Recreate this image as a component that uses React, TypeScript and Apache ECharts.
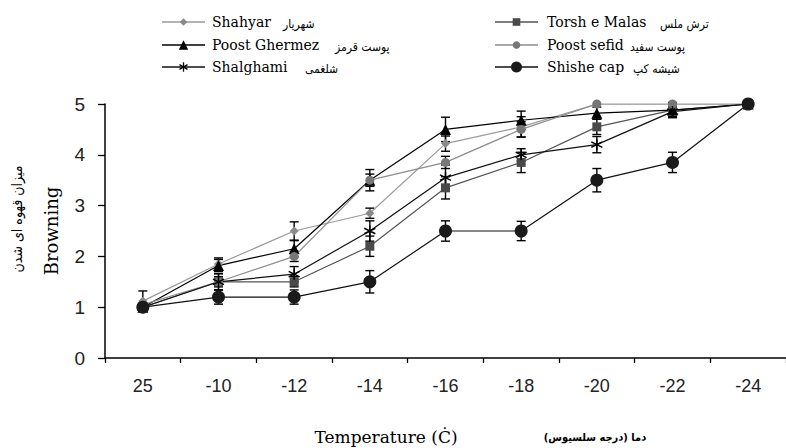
import React, { useEffect, useRef } from "react";
import * as echarts from "echarts";

const categories = ["25", "-10", "-12", "-14", "-16", "-18", "-20", "-22", "-24"];
const seriesNames = ["Shahyar", "Torsh e Malas", "Poost Ghermez", "Poost sefid", "Shalghami", "Shishe cap"];
const persianNames = ["شهریار", "ترش ملس", "پوست قرمز", "پوست سفید", "شلغمی", "شیشه کپ"];

const shahyar = [1.12, 1.85, 2.5, 2.85, 4.22, 4.55, 5.0, 5.0, 5.0];
const torshMalas = [1.0, 1.5, 1.5, 2.2, 3.35, 3.85, 4.55, 4.88, 5.0];
const poostGhermez = [1.0, 1.82, 2.15, 3.5, 4.5, 4.68, 4.82, 4.88, 5.0];
const poostSefid = [1.05, 1.5, 2.0, 3.5, 3.85, 4.5, 5.0, 5.0, 5.0];
const shalghami = [1.0, 1.5, 1.65, 2.5, 3.55, 4.0, 4.2, 4.85, 5.0];
const shisheCap = [1.0, 1.2, 1.2, 1.5, 2.5, 2.5, 3.5, 3.85, 5.0];

const shahyarErr = [0.2, 0.12, 0.18, 0.1, 0.15, 0.2, 0, 0, 0];
const torshMalasErr = [0.05, 0.16, 0.1, 0.2, 0.22, 0.2, 0.15, 0.12, 0];
const poostGhermezErr = [0.05, 0.12, 0.16, 0.21, 0.24, 0.18, 0.12, 0.15, 0];
const poostSefidErr = [0, 0.1, 0.1, 0.12, 0.12, 0.15, 0, 0, 0];
const shalghamiErr = [0.05, 0.16, 0.15, 0.2, 0.25, 0.12, 0.16, 0.1, 0];
const shisheCapErr = [0.05, 0.14, 0.14, 0.22, 0.2, 0.19, 0.23, 0.2, 0];

const yTicks = [0, 1, 2, 3, 4, 5];

const ASTERISK = "path://M5,0 L5,10 M0.7,2.5 L9.3,7.5 M9.3,2.5 L0.7,7.5";

const seriesValues = [shahyar, torshMalas, poostGhermez, poostSefid, shalghami, shisheCap];
const seriesErrs = [shahyarErr, torshMalasErr, poostGhermezErr, poostSefidErr, shalghamiErr, shisheCapErr];
const symbols = ["diamond", "rect", "triangle", "circle", ASTERISK, "circle"];
const symbolSizes = [9, 9, 11, 9, 11, 13];
const lineColors = ["#9a9a9a", "#555555", "#000000", "#8c8c8c", "#111111", "#111111"];
const markerColors = ["#8a8a8a", "#4a4a4a", "#000000", "#777777", "#000000", "#1a1a1a"];

// legend layout
const legendLineX = [162, 495];
const legendLineLen = 43;
const legendTextX = [212, 547];
const legendRowY = [22, 45, 67];
const legendPersianX = [283, 660, 335, 630, 305, 633];

const ARABIC_FONT = '"DejaVu Sans Condensed", "DejaVu Sans"';

function markerGraphic(kind: number, cx: number, cy: number, color: string): any {
  const s = symbolSizes[kind] * 0.85;
  const h = s / 2;
  switch (kind) {
    case 0:
      return { type: "polygon", shape: { points: [[cx, cy - h], [cx + h, cy], [cx, cy + h], [cx - h, cy]] }, style: { fill: color } };
    case 1:
      return { type: "rect", shape: { x: cx - h, y: cy - h, width: s, height: s }, style: { fill: color } };
    case 2:
      return { type: "polygon", shape: { points: [[cx, cy - h], [cx + h, cy + h], [cx - h, cy + h]] }, style: { fill: color } };
    case 4:
      return {
        type: "group",
        children: [
          { type: "line", shape: { x1: cx, y1: cy - h, x2: cx, y2: cy + h }, style: { stroke: color, lineWidth: 1.3 } },
          { type: "line", shape: { x1: cx - h * 0.86, y1: cy - h * 0.5, x2: cx + h * 0.86, y2: cy + h * 0.5 }, style: { stroke: color, lineWidth: 1.3 } },
          { type: "line", shape: { x1: cx + h * 0.86, y1: cy - h * 0.5, x2: cx - h * 0.86, y2: cy + h * 0.5 }, style: { stroke: color, lineWidth: 1.3 } },
        ],
      };
    default:
      return { type: "circle", shape: { cx, cy, r: h }, style: { fill: color } };
  }
}

export default function App() {
  const ref = useRef<HTMLDivElement>(null);
  useEffect(() => {
    if (!ref.current) return;
    const chart = echarts.init(ref.current, null, { renderer: "svg" });

    const lineSeries = seriesNames.map((name, i) => ({
      name,
      type: "line",
      data: seriesValues[i],
      symbol: symbols[i],
      symbolSize: symbolSizes[i],
      z: 3,
      lineStyle: { color: lineColors[i], width: 1.2 },
      itemStyle: { color: markerColors[i], borderColor: markerColors[i], borderWidth: i === 4 ? 1.5 : 0 },
    }));

    const errData: number[][] = [];
    seriesValues.forEach((vals, i) => {
      vals.forEach((v, j) => {
        const e = seriesErrs[i][j];
        if (e > 0) errData.push([j, v - e, v + e]);
      });
    });

    const errSeries = {
      type: "custom",
      z: 2,
      data: errData,
      encode: { x: 0, y: [1, 2] },
      renderItem: (params: any, api: any) => {
        const x = api.value(0);
        const lo = api.value(1);
        const hi = api.value(2);
        const p1 = api.coord([x, hi]);
        const p2 = api.coord([x, lo]);
        const w = 4.5;
        const st = { stroke: "#000", lineWidth: 1.4 };
        return {
          type: "group",
          children: [
            { type: "line", shape: { x1: p1[0], y1: p1[1], x2: p2[0], y2: p2[1] }, style: st },
            { type: "line", shape: { x1: p1[0] - w, y1: p1[1], x2: p1[0] + w, y2: p1[1] }, style: st },
            { type: "line", shape: { x1: p2[0] - w, y1: p2[1], x2: p2[0] + w, y2: p2[1] }, style: st },
          ],
        };
      },
    };

    const legendGraphics: any[] = [];
    seriesNames.forEach((name, i) => {
      const col = i % 2;
      const row = Math.floor(i / 2);
      const y = legendRowY[row];
      const x0 = legendLineX[col];
      legendGraphics.push({
        type: "line",
        shape: { x1: x0, y1: y, x2: x0 + legendLineLen, y2: y },
        style: { stroke: lineColors[i], lineWidth: 1.3 },
      });
      legendGraphics.push(markerGraphic(i, x0 + legendLineLen / 2, y, markerColors[i]));
      legendGraphics.push({
        type: "text",
        x: legendTextX[col],
        y,
        style: { text: name, fill: "#000", font: '14px "DejaVu Serif"', textVerticalAlign: "middle", textAlign: "left" },
      });
      legendGraphics.push({
        type: "text",
        x: legendPersianX[i],
        y: y + 2,
        style: { text: persianNames[i], fill: "#000", font: "12px " + ARABIC_FONT, textVerticalAlign: "middle", textAlign: "left" },
      });
    });

    const option: any = {
      animation: false,
      backgroundColor: "#fff",
      grid: { left: 105, top: 104, right: -7, bottom: 90 },
      xAxis: {
        type: "category",
        data: categories,
        boundaryGap: true,
        axisLine: { lineStyle: { color: "#000", width: 1.5 } },
        axisTick: { show: true, length: 5, lineStyle: { color: "#000", width: 1.3 } },
        axisLabel: { color: "#222", fontSize: 18, fontFamily: "Liberation Sans", margin: 19 },
        splitLine: { show: false },
      },
      yAxis: {
        type: "value",
        min: yTicks[0],
        max: yTicks[yTicks.length - 1],
        interval: 1,
        axisLine: { show: true, lineStyle: { color: "#000", width: 1.5 } },
        axisTick: { show: true, length: 7, lineStyle: { color: "#000", width: 1.3 } },
        axisLabel: { color: "#222", fontSize: 19, fontFamily: "Liberation Sans", margin: 20 },
        splitLine: { show: false },
      },
      series: [errSeries, ...lineSeries],
      graphic: [
        ...legendGraphics,
        {
          type: "text",
          x: 51,
          y: 231,
          rotation: Math.PI / 2,
          style: { text: "Browning", fill: "#000", font: '18px "DejaVu Serif"', textAlign: "center", textVerticalAlign: "middle" },
        },
        {
          type: "text",
          x: 17,
          y: 219,
          rotation: Math.PI / 2,
          style: { text: "میزان قهوه ای شدن", fill: "#000", font: "14px " + ARABIC_FONT, textAlign: "center", textVerticalAlign: "middle" },
        },
        {
          type: "text",
          x: 386,
          y: 437,
          style: { text: "Temperature (Ċ)", fill: "#000", font: '17px "DejaVu Serif"', textAlign: "center", textVerticalAlign: "middle" },
        },
        {
          type: "text",
          x: 595,
          y: 437,
          style: { text: "دما (درجه سلسیوس)", fill: "#000", font: "bold 11px " + ARABIC_FONT, textAlign: "center", textVerticalAlign: "middle" },
        },
      ],
    };
    chart.setOption(option);
    return () => chart.dispose();
  }, []);

  return (
    <div
      ref={ref}
      style={{ position: "fixed", left: 0, top: 0, width: 786, height: 448, background: "#fff" }}
    />
  );
}
